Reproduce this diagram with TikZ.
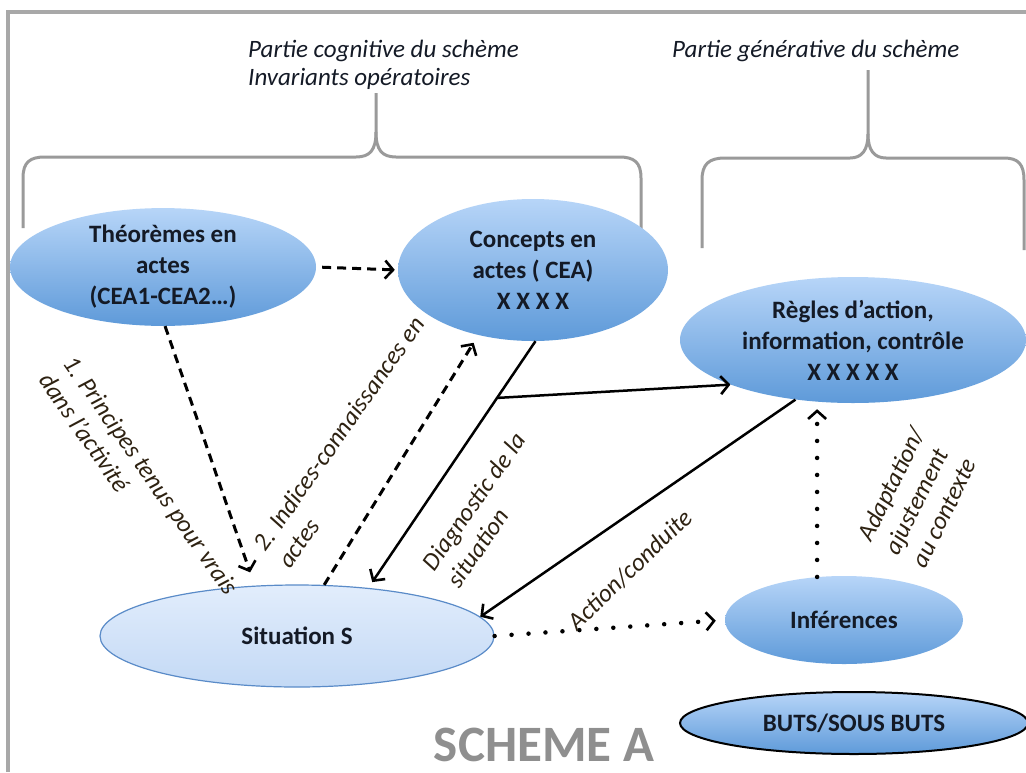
\documentclass[tikz,border=0pt]{standalone}
\usepackage{fontspec}
\setmainfont{Carlito}
\usetikzlibrary{arrows.meta,calc,shapes.geometric}
\definecolor{ellTop}{HTML}{B7D5F8}
\definecolor{ellBot}{HTML}{5E9AD9}
\definecolor{sitTop}{HTML}{E2EDFC}
\definecolor{sitBot}{HTML}{C3D9F5}
\definecolor{sitLine}{HTML}{5A8BC8}
\definecolor{frameGray}{HTML}{A8A8A8}
\definecolor{braceGray}{HTML}{9A9A9A}
\definecolor{labelInk}{HTML}{2E2212}
\definecolor{titleGray}{HTML}{8F8F8F}
\definecolor{nodeInk}{HTML}{141A26}
\begin{document}
\begin{tikzpicture}[x=1pt,y=-1pt,
  bubble/.style={ellipse, inner sep=0pt, top color=ellTop, bottom color=ellBot, draw=none,
    align=center, font=\fontsize{25}{31}\selectfont\bfseries, text=nodeInk},
  sitbubble/.style={ellipse, inner sep=0pt, top color=sitTop, bottom color=sitBot, draw=sitLine,
    line width=1.2pt, align=center, font=\fontsize{25}{31}\selectfont\bfseries, text=nodeInk},
  lab/.style={font=\fontsize{25}{30}\selectfont\itshape, text=labelInk, align=left, inner sep=0pt},
  toplab/.style={font=\fontsize{25}{28}\selectfont\itshape, text=nodeInk, align=left, inner sep=0pt},
  bracestyle/.style={draw=braceGray, line width=3pt, line join=round},
  tipbarb/.style={-{Straight Barb[length=8pt,width=18pt,line width=2.6pt]}},
  dashedarrow/.style={tipbarb, line width=3pt, dash pattern=on 9pt off 6pt},
  solidarrow/.style={tipbarb, line width=2.5pt},
  dottedarrow/.style={tipbarb, line width=4.5pt, dash pattern=on 0pt off 17pt, line cap=round},
]
\useasboundingbox (0,0) rectangle (1026,772);
\fill[white] (0,0) rectangle (1026,772);
% frame
\draw[frameGray, line width=3.5pt] (8,772) -- (8,12) -- (1026,12);

% braces
\draw[bracestyle] (23,228) -- (23,178) .. controls (23,162) and (30,157) .. (45,157) -- (356,157)
  .. controls (370,157) and (376,150) .. (376,132) -- (376,93);
\draw[bracestyle] (376,132) .. controls (376,150) and (382,157) .. (396,157) -- (619,157)
  .. controls (634,157) and (641,162) .. (641,178) -- (641,230);
\draw[bracestyle] (702,248) -- (702,180) .. controls (702,164) and (709,158) .. (725,158) -- (850,158)
  .. controls (862,158) and (868,150) .. (868,134) -- (868,70);
\draw[bracestyle] (868,134) .. controls (868,150) and (874,158) .. (886,158) -- (1004,158)
  .. controls (1018,158) and (1024,164) .. (1024,180) -- (1024,250);

% top labels
\node[toplab, anchor=north west] (cog) at (248,40) {Partie cognitive du schème\\Invariants opératoires};
\node[toplab, anchor=north west] (gen) at (672,40) {Partie générative du schème};

% nodes
\node[bubble, minimum width=306pt, minimum height=108pt] (theo) at (163,267)
  {Théorèmes en\\actes\\(CEA1-CEA2…)};
\node[bubble, minimum width=270pt, minimum height=142pt] (conc) at (533,270)
  {Concepts en\\actes ( CEA)\\X X X X};
\node[bubble, minimum width=346pt, minimum height=126pt] (regles) at (853,340)
  {Règles d’action,\\information, contrôle\\X X X X X};
\node[sitbubble, minimum width=394pt, minimum height=102pt] (sit) at (297,636) {Situation S};
\node[bubble, minimum width=238pt, minimum height=88pt] (inf) at (844,620) {Inférences};
\node[bubble, draw=black, line width=2pt, minimum width=348pt, minimum height=62pt] (buts) at (854,723)
  {BUTS/SOUS BUTS};
\node[font=\fontsize{51}{60}\selectfont\bfseries, text=titleGray, anchor=base, inner sep=0pt] (title)
  at (544,761) {SCHEME A};

% connectors
\draw[dashedarrow, shorten <=6pt, shorten >=3pt] (theo.east) -- (conc.west);
\draw[dashedarrow, shorten >=14pt] (theo.-88) -- (sit.130);
\draw[dashedarrow, shorten >=9pt] (sit.62) -- (conc.230);
\draw[solidarrow, shorten >=7pt] (conc.-88) -- (sit.34);
\coordinate (br) at ($(conc.-88)!0.23!(sit.34)$);
\draw[solidarrow] (br) -- (regles.200);
\draw[solidarrow] (regles.226) -- (sit.6);
\draw[dottedarrow, shorten >=9pt] (sit.east) -- (inf.west);
\draw[dottedarrow, shorten >=6pt] (inf.122) -- (inf.122 |- regles.south);

% connector labels
\node[lab, rotate=-55] (l1) at (139,484) {1. Principes tenus pour vrais\\dans l’activité};
\node[lab, rotate=55] (l2) at (351,442) {2. Indices-connaissances en\\actes};
\node[lab, rotate=55] (l3) at (486,510) {Diagnostic de la\\situation};
\node[lab, rotate=44] (l4) at (630,570) {Action/conduite};
\node[lab, rotate=64] (l5) at (918,497) {Adaptation/\\ajustement\\au contexte};
\end{tikzpicture}
\end{document}
